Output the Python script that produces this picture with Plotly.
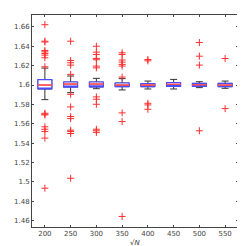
import plotly.graph_objects as go

cats = ["200", "250", "300", "350", "400", "450", "500", "550"]
q1 = [1.5959, 1.5978, 1.5980, 1.5983, 1.5983, 1.5986, 1.5986, 1.5983]
med = [1.6000, 1.6010, 1.6010, 1.6000, 1.6000, 1.6007, 1.6003, 1.6000]
q3 = [1.6055, 1.6031, 1.6031, 1.6021, 1.6014, 1.6024, 1.6017, 1.6017]
lo = [1.5849, 1.5921, 1.5962, 1.5949, 1.5959, 1.5959, 1.5973, 1.5966]
hi = [1.6175, 1.6093, 1.6069, 1.6066, 1.6041, 1.6058, 1.6034, 1.6041]

out_200 = [1.6624, 1.6453, 1.6445, 1.6357, 1.6343, 1.6326, 1.6309, 1.6282, 1.6189,
           1.5708, 1.5699, 1.5691, 1.5568, 1.5543, 1.5520, 1.5451, 1.4933]
out_250 = [1.6453, 1.6254, 1.6230, 1.6206, 1.6110, 1.5904, 1.5774, 1.5674, 1.5653,
           1.5533, 1.5520, 1.5499, 1.5036]
out_300 = [1.6401, 1.6340, 1.6316, 1.6275, 1.6261, 1.6196, 1.6178, 1.5877, 1.5853,
           1.5801, 1.5543, 1.5527, 1.5510]
out_350 = [1.6333, 1.6316, 1.6258, 1.6237, 1.6213, 1.6196, 1.6082, 1.5712, 1.5622, 1.4641]
out_400 = [1.6264, 1.6250, 1.5811, 1.5794, 1.5749]
out_450 = []
out_500 = [1.6439, 1.6298, 1.6206, 1.5527]
out_550 = [1.6274, 1.5756]
outliers = [out_200, out_250, out_300, out_350, out_400, out_450, out_500, out_550]

ytick_vals = [1.46, 1.48, 1.50, 1.52, 1.54, 1.56, 1.58, 1.60, 1.62, 1.64, 1.66]
ytick_text = ["1.46", "1.48", "1.5", "1.52", "1.54", "1.56", "1.58", "1.6", "1.62", "1.64", "1.66"]

W = 0.54
fig = go.Figure()
# whiskers (black)
fig.add_trace(go.Box(x=cats, q1=q1, median=med, q3=q3, lowerfence=lo, upperfence=hi,
                     width=W, whiskerwidth=0.5, boxpoints=False,
                     line=dict(color="#333333", width=1), fillcolor="rgba(0,0,0,0)",
                     hoverinfo="skip", showlegend=False))
# boxes (blue)
fig.add_trace(go.Box(x=cats, q1=q1, median=q1, q3=q3, lowerfence=q1, upperfence=q3,
                     width=W, whiskerwidth=0, boxpoints=False,
                     line=dict(color="#4b4bff", width=1.2), fillcolor="white",
                     hoverinfo="skip", showlegend=False))
# medians (red)
fig.add_trace(go.Box(x=cats, q1=med, median=med, q3=med, lowerfence=med, upperfence=med,
                     width=W, whiskerwidth=0, boxpoints=False,
                     line=dict(color="#ff5050", width=1), fillcolor="rgba(0,0,0,0)",
                     hoverinfo="skip", showlegend=False))
ox, oy = [], []
for c, vals in zip(cats, outliers):
    for v in vals:
        ox.append(c)
        oy.append(v)
fig.add_trace(go.Scatter(x=ox, y=oy, mode="markers", showlegend=False,
                         marker=dict(symbol="cross-thin", size=5, color="#ff3030",
                                     line=dict(color="#ff3030", width=1))))

axis_font = dict(family="DejaVu Sans", size=7, color="#444444")
fig.update_layout(
    width=245, height=246, boxmode="overlay",
    margin=dict(l=20, r=15, t=6, b=27),
    plot_bgcolor="white", paper_bgcolor="white",
    xaxis=dict(type="category", range=[-0.5, 7.5], showline=True, linecolor="#444444",
               linewidth=1, mirror="ticks", ticks="inside", ticklen=2, tickcolor="#444444",
               showgrid=False, zeroline=False, tickfont=axis_font),
    yaxis=dict(range=[1.4532, 1.6724], tickvals=ytick_vals, ticktext=ytick_text,
               showline=True, linecolor="#444444", linewidth=1, mirror="ticks",
               ticks="inside", ticklen=2, tickcolor="#444444", showgrid=False,
               zeroline=False, tickfont=axis_font),
    annotations=[dict(text="√<i>N</i>", xref="paper", yref="paper", x=0.5, y=0,
                      xanchor="center", yanchor="middle", yshift=-16, showarrow=False,
                      font=dict(family="DejaVu Sans", size=7, color="#333333"))],
)
fig.write_html("out.html")
